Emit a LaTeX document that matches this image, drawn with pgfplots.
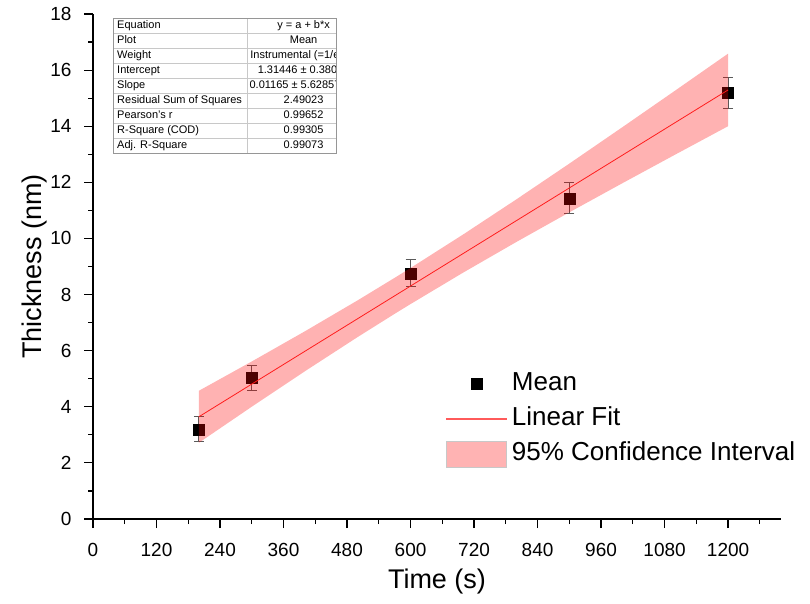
\documentclass[border=0pt]{standalone}
\usepackage{fontspec}
\setmainfont{Liberation Sans}
\usepackage{pgfplots}
\pgfplotsset{compat=1.18}
\usepackage{colortbl}
\definecolor{errgray}{RGB}{90,90,90}
\definecolor{fitred}{RGB}{255,40,40}
\definecolor{legred}{RGB}{255,90,90}
\definecolor{bandpink}{RGB}{255,179,179}
\definecolor{rulegray}{RGB}{200,200,200}
\definecolor{framegray}{RGB}{150,150,150}
\begin{document}
\begin{tikzpicture}[x=1pt,y=1pt]
\useasboundingbox (-93,-84) rectangle (717,519);
\begin{axis}[
  at={(0pt,0pt)}, anchor=south west,
  scale only axis, width=688pt, height=505pt,
  xmin=0, xmax=1300, ymin=0, ymax=18,
  axis x line=bottom, axis y line=left,
  axis line style={-, line width=1.2pt, black},
  xtick={0,120,...,1200}, ytick={0,2,...,18},
  minor xtick={60,180,...,1260}, minor ytick={1,3,...,17},
  tick align=outside, major tick length=9pt, minor tick length=5pt,
  every tick/.style={black, line width=1.2pt},
  ticklabel style={font=\fontsize{19}{19}\selectfont},
  xticklabel style={yshift=-12pt},
  yticklabel style={xshift=-9pt},
  /pgf/number format/assume math mode=true,
  /pgf/number format/1000 sep={},
  xlabel={Time (s)}, ylabel={Thickness (nm)},
  label style={font=\fontsize{27}{27}\selectfont},
  x label style={at={(axis description cs:0.5,-0.1228)}, anchor=center},
  y label style={at={(axis description cs:-0.0843,0.5)}, anchor=center},
  clip marker paths=true,
  legend style={draw=none, fill=none, at={(rel axis cs:0.513,0.302)}, anchor=north west,
    font=\fontsize{26}{26}\selectfont, inner sep=0pt, row sep=0pt,
    nodes={inner sep=5pt, text height=19pt, text depth=6pt}},
  legend cell align=left,
]
\addplot[only marks, mark=square*, mark size=5.5pt, black,
  legend image code/.code={\fill[black] (24.5pt,-5.5pt) rectangle (35.5pt,5.5pt);},
  error bars/.cd, y dir=both, y explicit,
  error bar style={errgray, line width=1pt},
  error mark options={rotate=90, mark size=5pt, line width=1pt, errgray}]
  coordinates {
  (200,3.20) +- (0,0.45)
  (300,5.02) +- (0,0.45)
  (600,8.76) +- (0,0.49)
  (900,11.43) +- (0,0.55)
  (1200,15.19) +- (0,0.56)
};
\addlegendentry{Mean}
\addplot[fitred, line width=0.8pt, no marks,
  legend image code/.code={\fill[legred] (0pt,-0.6pt) rectangle (60pt,0.6pt);}]
  coordinates {(200,3.644) (1200,15.294)};
\addlegendentry{Linear Fit}
\addplot[fill=red, fill opacity=0.3, draw=none,
  legend image code/.code={\fill[bandpink, fill opacity=1, opacity=1] (0pt,-13pt) rectangle (60pt,13pt);
     \draw[draw=rulegray, fill=none, draw opacity=1, line width=0.6pt] (0pt,-13pt) rectangle (60pt,13pt);}]
  coordinates {
  (200,4.570) (300,5.615) (400,6.686) (500,7.793) (573,8.631) (600,8.947)
  (700,10.149) (800,11.393) (900,12.667) (1000,13.962) (1100,15.270) (1200,16.587)
  (1200,14.001) (1100,12.988) (1000,11.966) (900,10.931) (800,9.875) (700,8.789)
  (600,7.661) (573,7.349) (500,6.485) (400,5.262) (300,4.003) (200,2.718)
  } -- cycle;
\addlegendentry{95\% Confidence Interval}
\end{axis}
\begin{scope}
\clip (20,501) rectangle (243,366);
\fill[white] (20,501) rectangle (243,366);
\node[anchor=north west, inner sep=0pt] at (20,501)
  {\fontsize{11}{14.6}\selectfont\arrayrulecolor{rulegray}\setlength\tabcolsep{4pt}%
  \begin{tabular}{w{l}{126pt}|w{c}{104pt}}
  Equation & y = a + b*x \\\hline
  Plot & Mean \\\hline
  Weight & Instrumental (=1/ei\textasciicircum 2) \\\hline
  Intercept & 1.31446 ± 0.38031 \\\hline
  Slope & 0.01165 ± 5.62857E-4 \\\hline
  Residual Sum of Squares & 2.49023 \\\hline
  Pearson's r & 0.99652 \\\hline
  R-Square (COD) & 0.99305 \\\hline
  Adj. R-Square & 0.99073
  \end{tabular}};
\end{scope}
\draw[framegray, line width=0.8pt] (20,501) rectangle (243,366);
\end{tikzpicture}
\end{document}
